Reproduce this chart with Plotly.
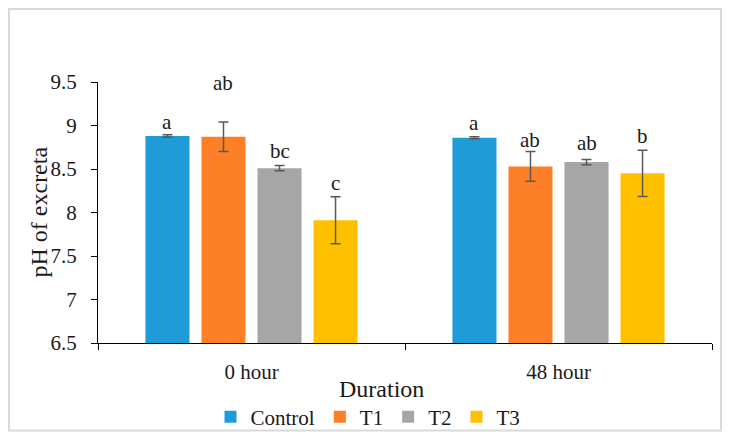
import plotly.graph_objects as go

# ---- data ----
durations = ["0 hour", "48 hour"]
series_names = ["Control", "T1", "T2", "T3"]
means = {
    "Control": [8.88, 8.86],
    "T1": [8.87, 8.53],
    "T2": [8.51, 8.58],
    "T3": [7.91, 8.45],
}
errors = {
    "Control": [0.015, 0.012],
    "T1": [0.17, 0.17],
    "T2": [0.03, 0.03],
    "T3": [0.27, 0.265],
}
letters = {
    "Control": ["a", "a"],
    "T1": ["ab", "ab"],
    "T2": ["bc", "ab"],
    "T3": ["c", "b"],
}
letter_y = {
    "Control": [9.044, 9.025],
    "T1": [9.485, 8.833],
    "T2": [8.71, 8.795],
    "T3": [8.343, 8.879],
}
y_ticks = [6.5, 7, 7.5, 8, 8.5, 9, 9.5]
y_tick_text = ["6.5", "7", "7.5", "8", "8.5", "9", "9.5"]

colors = {"Control": "#1F9BD8", "T1": "#FD7F27", "T2": "#A6A6A6", "T3": "#FFC000"}
FONT = "Palatino Linotype, Book Antiqua, Liberation Serif, serif"
BARGAP = 0.27

# layout geometry (page pixels; the html body adds an 8px offset)
OFF = 8
W, H = 731 - OFF, 442 - OFF
L, R, T, B = 98 - OFF, 19, 82 - OFF, 99
pw, ph = W - L - R, H - T - B


def px(x):
    return (x - OFF - L) / pw


def py(y):
    return (H - B - (y - OFF)) / ph


fig = go.Figure()
for name in series_names:
    fig.add_trace(go.Bar(
        name=name,
        x=durations,
        y=means[name],
        marker=dict(color=colors[name], line=dict(width=0)),
        error_y=dict(type="data", array=errors[name], visible=True,
                     color="#595959", thickness=1.5, width=5),
        hoverinfo="skip",
    ))

# significance letters
slot = (1 - BARGAP) / len(series_names)
for i, name in enumerate(series_names):
    for j, d in enumerate(durations):
        fig.add_annotation(
            x=j + (i - (len(series_names) - 1) / 2) * slot, y=letter_y[name][j],
            xref="x", yref="y", text=letters[name][j], showarrow=False,
            font=dict(family=FONT, size=21, color="#1a1a1a"),
            xanchor="center", yanchor="middle",
        )

# axis titles
fig.add_annotation(x=px(38), y=0.5, xref="paper", yref="paper", text="pH of excreta",
                   textangle=-90, showarrow=False, xanchor="center", yanchor="middle",
                   font=dict(family=FONT, size=24, color="#1a1a1a"))
fig.add_annotation(x=px(381), y=py(389), xref="paper", yref="paper", text="Duration",
                   showarrow=False, xanchor="center", yanchor="middle",
                   font=dict(family=FONT, size=24, color="#1a1a1a"))

# chart-area border
fig.add_shape(type="rect", xref="paper", yref="paper",
              x0=px(9), x1=px(721), y0=py(430.5), y1=py(9),
              line=dict(color="#D9D9D9", width=2), fillcolor="rgba(0,0,0,0)", layer="below")

fig.update_layout(
    width=W, height=H,
    margin=dict(l=L, r=R, t=T, b=B, pad=0, autoexpand=False),
    paper_bgcolor="white", plot_bgcolor="white",
    barmode="group", bargap=BARGAP, bargroupgap=0.214,
    font=dict(family=FONT, size=21, color="#1a1a1a"),
    showlegend=True,
    legend=dict(orientation="h", x=px(368), y=py(417), xanchor="center", yanchor="middle",
                font=dict(family=FONT, size=21, color="#1a1a1a"), bgcolor="rgba(0,0,0,0)",
                itemwidth=30, tracegroupgap=0),
    xaxis=dict(showline=True, linecolor="black", linewidth=1.2, ticks="outside",
               tickson="boundaries", ticklen=6, tickcolor="black", tickwidth=1.2,
               showgrid=False, zeroline=False, ticklabelstandoff=10, automargin=False,
               tickfont=dict(family=FONT, size=21, color="#1a1a1a")),
    yaxis=dict(range=[6.5, 9.5], tickvals=y_ticks, ticktext=y_tick_text,
               showline=True, linecolor="black", linewidth=1.2, ticks="outside",
               ticklen=6, tickcolor="black", tickwidth=1.2, showgrid=False, zeroline=False,
               ticklabelstandoff=10, automargin=False,
               tickfont=dict(family=FONT, size=21, color="#1a1a1a")),
)

fig.write_html("out.html")
